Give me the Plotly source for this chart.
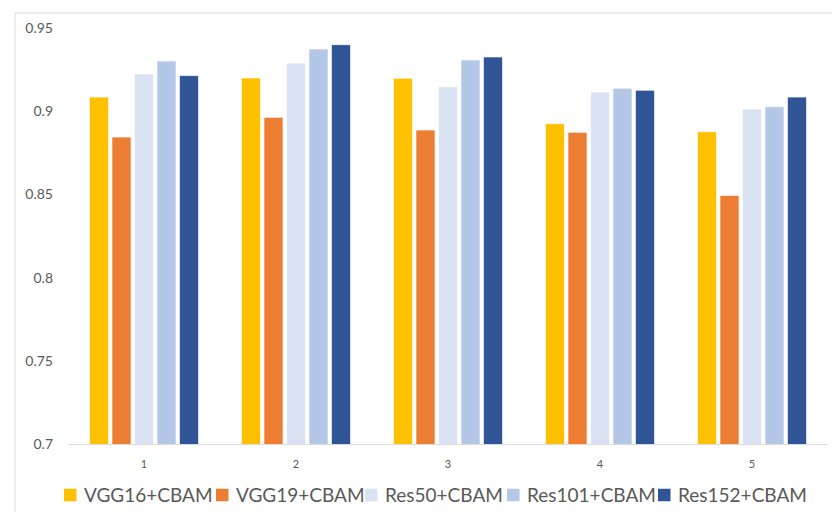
import plotly.graph_objects as go

# Groups along the x axis
groups = ["1", "2", "3", "4", "5"]

# Accuracy per model variant, one value per group
vgg16_cbam = [0.9085, 0.9200, 0.9198, 0.8925, 0.8877]
vgg19_cbam = [0.8845, 0.8963, 0.8887, 0.8873, 0.8494]
res50_cbam = [0.9224, 0.9290, 0.9147, 0.9115, 0.9013]
res101_cbam = [0.9302, 0.9374, 0.9308, 0.9138, 0.9027]
res152_cbam = [0.9214, 0.9400, 0.9326, 0.9126, 0.9085]

series_names = ["VGG16+CBAM", "VGG19+CBAM", "Res50+CBAM", "Res101+CBAM", "Res152+CBAM"]
series_values = [vgg16_cbam, vgg19_cbam, res50_cbam, res101_cbam, res152_cbam]
series_colors = ["#FFC000", "#ED7D31", "#DAE3F3", "#B4C7E7", "#2F5597"]

y_ticks = [0.7, 0.75, 0.8, 0.85, 0.9, 0.95]
y_tick_text = ["0.7", "0.75", "0.8", "0.85", "0.9", "0.95"]

fig = go.Figure()
for name, vals, color in zip(series_names, series_values, series_colors):
    fig.add_trace(go.Bar(
        x=groups, y=vals, name=name, showlegend=False,
        marker=dict(color=color, line=dict(color="rgba(255,255,255,0.7)", width=1)),
    ))

font_family = "Lato, 'Open Sans', sans-serif"
text_color = "#595959"
plot_l, plot_r, plot_t, plot_b = 68, 828, 28, 444
W, H = 832, 512
pw, ph = plot_r - plot_l, plot_b - plot_t


def px_x(x):
    """Pixel column -> paper x."""
    return (x - plot_l) / pw


def px_y(y):
    """Pixel row -> paper y."""
    return (plot_b - y) / ph


fig.update_layout(
    width=W, height=H,
    margin=dict(l=plot_l, r=W - plot_r, t=plot_t, b=H - plot_b, autoexpand=False),
    paper_bgcolor="white", plot_bgcolor="white",
    barmode="group", bargap=0.26, bargroupgap=0.15,
    font=dict(family=font_family, color=text_color),
    showlegend=False,
    xaxis=dict(
        showgrid=False, showline=True, linecolor="#D9D9D9", linewidth=1,
        ticks="", tickfont=dict(size=11, color=text_color),
        ticklabelstandoff=10, zeroline=False,
    ),
    yaxis=dict(
        range=[0.7, 0.95], tickvals=y_ticks, ticktext=y_tick_text,
        showgrid=False, showline=False, zeroline=False, ticks="",
        tickfont=dict(size=14, color=text_color), ticklabelstandoff=14,
    ),
)

# Light gray chart-area frame
fig.add_shape(
    type="rect", xref="paper", yref="paper",
    x0=px_x(15), x1=px_x(845), y0=px_y(530), y1=px_y(13),
    line=dict(color="#D9D9D9", width=1), fillcolor="rgba(0,0,0,0)", layer="below",
)

# Legend row below the axis: colour swatch followed by the series name
legend_swatch_left = [64, 216, 365, 507, 658]
swatch_size = 12.5
legend_mid = 495
for name, color, left in zip(series_names, series_colors, legend_swatch_left):
    fig.add_shape(
        type="rect", xref="paper", yref="paper",
        x0=px_x(left), x1=px_x(left + swatch_size),
        y0=px_y(legend_mid + swatch_size / 2), y1=px_y(legend_mid - swatch_size / 2),
        line=dict(width=0), fillcolor=color,
    )
    fig.add_annotation(
        xref="paper", yref="paper", x=px_x(left + swatch_size + 5), y=px_y(legend_mid),
        xanchor="left", yanchor="middle", text=name, showarrow=False,
        font=dict(size=19, color=text_color, family=font_family),
    )

fig.write_html("out.html")
